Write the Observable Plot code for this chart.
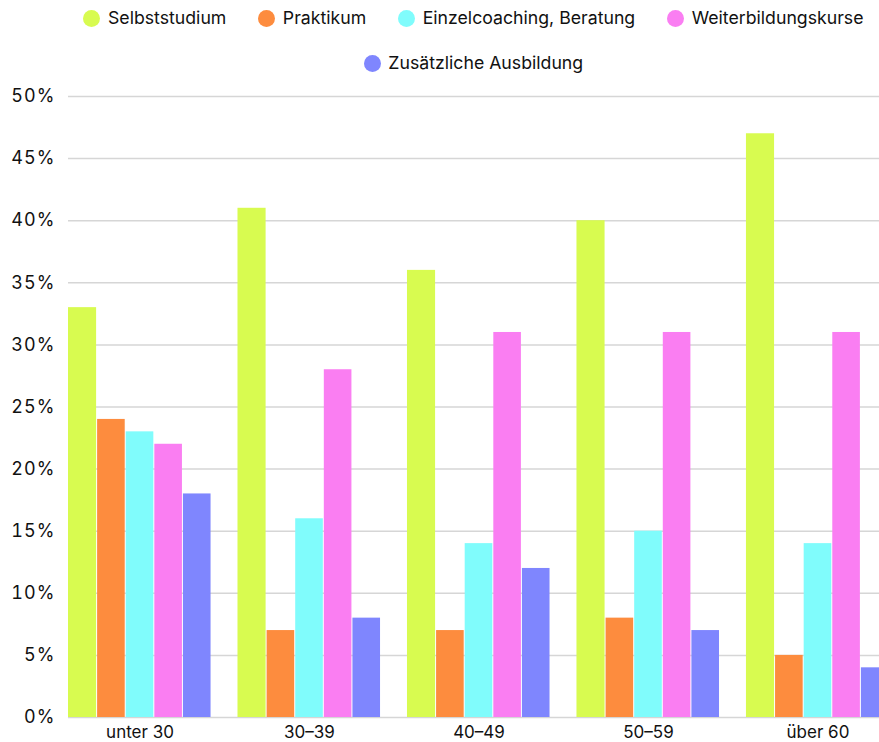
<!DOCTYPE html>
<html>
<head>
<meta charset="utf-8">
<script src="https://cdn.jsdelivr.net/npm/d3@7"></script>
<script src="https://cdn.jsdelivr.net/npm/@observablehq/plot@0.6"></script>
<style>
  html, body { margin: 0; padding: 0; background: #fff; }
  body { width: 879px; font-family: Inter, "Liberation Sans", sans-serif; color: #111; }
  #legend { height: 86px; box-sizing: border-box; padding-left: 68px; padding-top: 6px; }
  .row { display: flex; justify-content: center; gap: 32px; height: 45px; align-items: flex-start; }
  .item { display: flex; align-items: center; font-size: 17.7px; line-height: 24px; white-space: nowrap; }
  .dot { width: 17px; height: 17px; border-radius: 50%; margin-right: 7.5px; flex: none; }
  .yax text { font-size: 18px; letter-spacing: 1.1px; }
</style>
</head>
<body>
<div id="legend"></div>
<div id="chart"></div>
<script>
const groups = ["unter 30", "30–39", "40–49", "50–59", "über 60"];
const seriesNames = ["Selbststudium", "Praktikum", "Einzelcoaching, Beratung", "Weiterbildungskurse", "Zusätzliche Ausbildung"];
const seriesColors = ["#d8fb50", "#fd8c3e", "#80fcfc", "#fa7ef2", "#7f86fe"];
const selbststudium = [33, 41, 36, 40, 47];
const praktikum = [24, 7, 7, 8, 5];
const einzelcoaching = [23, 16, 14, 15, 14];
const weiterbildung = [22, 28, 31, 31, 31];
const zusaetzlich = [18, 8, 12, 7, 4];
const yTicks = [0, 5, 10, 15, 20, 25, 30, 35, 40, 45, 50];

const seriesValues = [selbststudium, praktikum, einzelcoaching, weiterbildung, zusaetzlich];

// legend
const legend = document.getElementById("legend");
const rows = [[0, 1, 2, 3], [4]];
for (const r of rows) {
  const row = document.createElement("div");
  row.className = "row";
  for (const i of r) {
    const it = document.createElement("div");
    it.className = "item";
    const d = document.createElement("span");
    d.className = "dot";
    d.style.background = seriesColors[i];
    it.appendChild(d);
    it.appendChild(document.createTextNode(seriesNames[i]));
    row.appendChild(it);
  }
  legend.appendChild(row);
}

const xRange = [68, 889];
const padInner = 0.156;
const bw = d3.scaleBand().domain(groups).range(xRange).paddingInner(padInner).paddingOuter(0).bandwidth();
const w = bw / seriesNames.length;

const marks = [
  Plot.ruleY(yTicks, {stroke: "#d6d6d6", strokeWidth: 1.5}),
  Plot.axisY({ticks: yTicks, tickFormat: d => d + "%", tickSize: 0, tickPadding: 13, className: "yax"}),
  Plot.axisX({tickSize: 0, tickPadding: 8})
];
seriesNames.forEach((name, i) => {
  const data = groups.map((g, j) => ({group: g, value: seriesValues[i][j]}));
  marks.push(Plot.barY(data, {
    x: "group", y: "value", fill: seriesColors[i],
    insetLeft: i * w + (i === 0 ? 0 : 0.5),
    insetRight: (seriesNames.length - 1 - i) * w + 0.5
  }));
});

const chart = Plot.plot({
  width: 879,
  height: 656,
  marginTop: 10,
  marginBottom: 25,
  marginLeft: 68,
  marginRight: 0,
  style: {fontFamily: "Inter, 'Liberation Sans', sans-serif", fontSize: "17px", color: "#111", background: "#fff"},
  x: {domain: groups, range: xRange, paddingInner: padInner, paddingOuter: 0, round: false, label: null},
  y: {domain: [0, 50], label: null},
  marks
});
document.getElementById("chart").appendChild(chart);
</script>
</body>
</html>
